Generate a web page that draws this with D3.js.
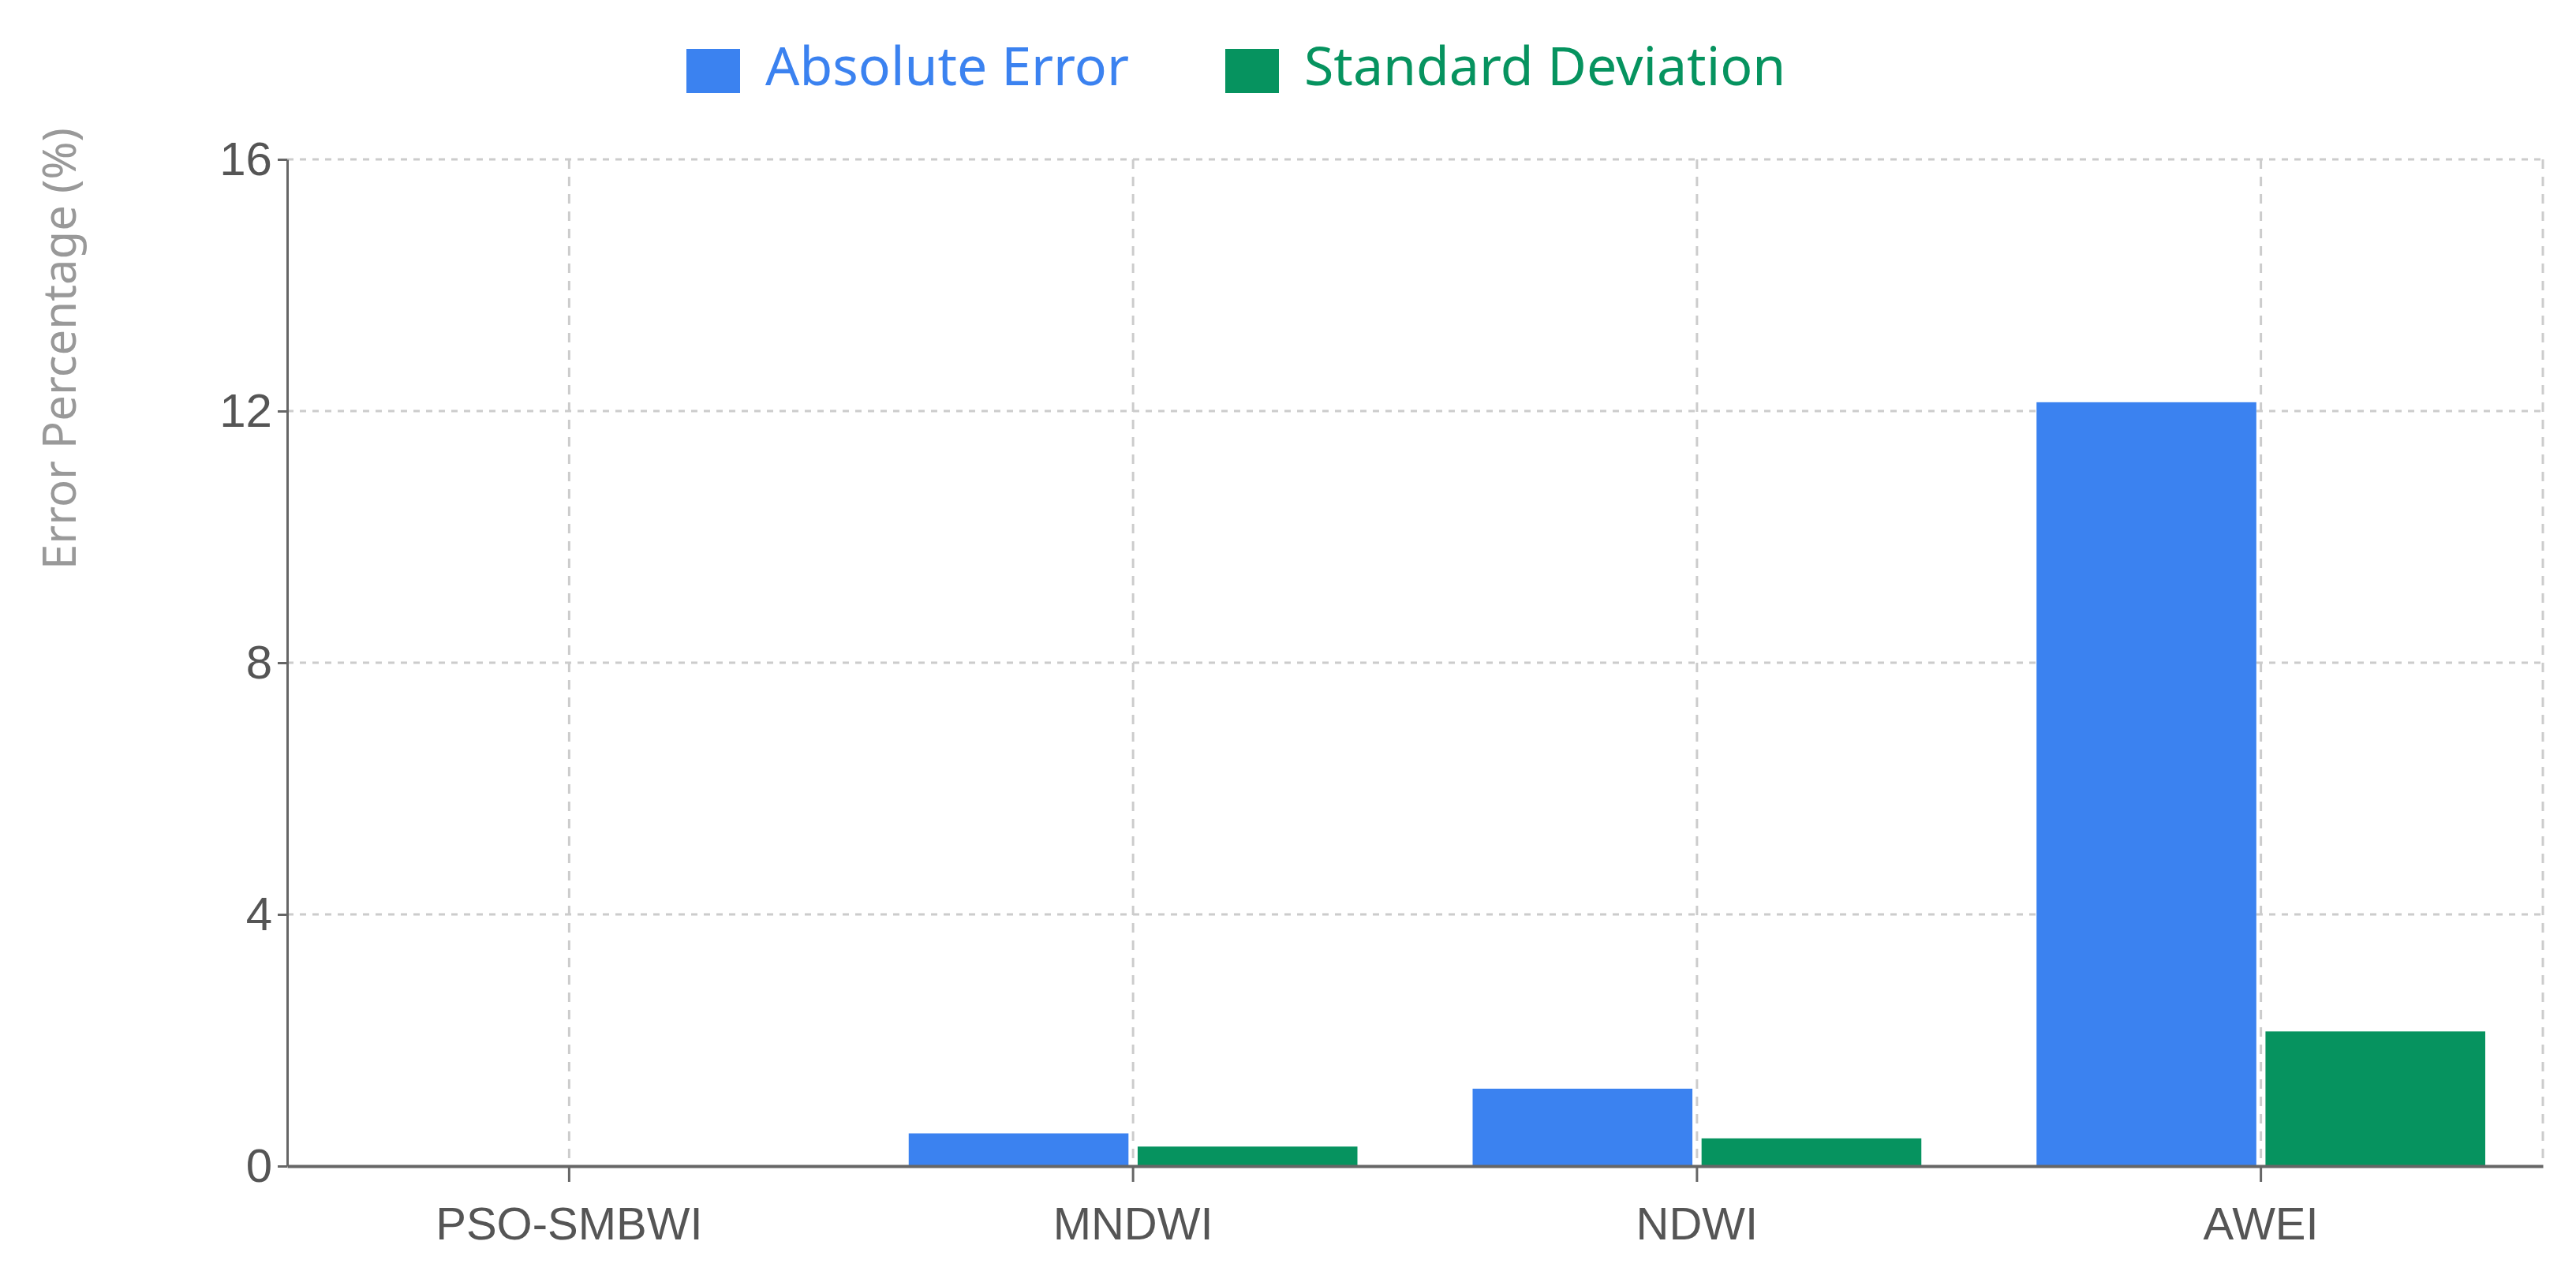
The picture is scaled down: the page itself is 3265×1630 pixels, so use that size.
<!DOCTYPE html>
<html lang="en">
<head>
<meta charset="UTF-8">
<script src="https://d3js.org/d3.v7.min.js"></script>
<style>
  body { margin: 0; background: #fff; }
  svg { font-family: 'Noto Sans', sans-serif; }
</style>
</head>
<body>
<script>
const categories = ["PSO-SMBWI", "MNDWI", "NDWI", "AWEI"];
const seriesNames = ["Absolute Error", "Standard Deviation"];
const absError = [0, 0.52, 1.23, 12.14];
const stdDev = [0, 0.31, 0.44, 2.14];
const yTicks = [0, 4, 8, 12, 16];
const colors = ["#3b82f0", "#06935f"];

const W = 3265, H = 1630;
const margin = { top: 202, right: 42, bottom: 152, left: 364 };
const width = W - margin.left - margin.right;
const height = H - margin.top - margin.bottom;

const svg = d3.select("body").append("svg").attr("width", W).attr("height", H);
const g = svg.append("g").attr("transform", `translate(${margin.left},${margin.top})`);

const x0 = d3.scaleBand().domain(categories).range([0, width]);
const x1 = d3.scaleBand().domain(seriesNames)
    .range([73, x0.bandwidth() - 73]).paddingInner(0.04);
const y = d3.scaleLinear().domain([0, 16]).range([height, 0]);

// grid
g.selectAll(".hgrid").data(yTicks.slice(1)).enter().append("line")
    .attr("x1", 0).attr("x2", width)
    .attr("y1", d => y(d)).attr("y2", d => y(d))
    .attr("stroke", "#ccc").attr("stroke-width", 3).attr("stroke-dasharray", "8,8");
g.selectAll(".vgrid").data(categories).enter().append("line")
    .attr("x1", d => x0(d) + x0.bandwidth() / 2).attr("x2", d => x0(d) + x0.bandwidth() / 2)
    .attr("y1", 0).attr("y2", height)
    .attr("stroke", "#ccc").attr("stroke-width", 3).attr("stroke-dasharray", "12,10");
g.append("line").attr("x1", width).attr("x2", width).attr("y1", 0).attr("y2", height)
    .attr("stroke", "#ccc").attr("stroke-width", 3).attr("stroke-dasharray", "12,10");

// bars
const rows = categories.map((c, i) => ({ c, vals: [absError[i], stdDev[i]] }));
const grp = g.selectAll(".grp").data(rows).enter().append("g")
    .attr("transform", d => `translate(${x0(d.c)},0)`);
grp.selectAll("rect").data(d => d.vals.map((v, k) => ({ k, v }))).enter().append("rect")
    .attr("x", d => x1(seriesNames[d.k]))
    .attr("width", x1.bandwidth())
    .attr("y", d => y(d.v))
    .attr("height", d => height - y(d.v))
    .attr("fill", d => colors[d.k]);

// axes
const yAxis = g.append("g").call(d3.axisLeft(y).tickValues(yTicks).tickSize(12).tickSizeOuter(0));
yAxis.select(".domain").attr("stroke", "#666").attr("stroke-width", 3);
yAxis.selectAll(".tick line").attr("stroke", "#666").attr("stroke-width", 3);
yAxis.selectAll("text").attr("fill", "#555").style("font-size", "60px").attr("dx", "-4");

const xAxis = g.append("g").attr("transform", `translate(0,${height})`)
    .call(d3.axisBottom(x0).tickSize(20).tickSizeOuter(0));
xAxis.select(".domain").attr("stroke", "#666").attr("stroke-width", 4);
xAxis.selectAll(".tick line").attr("stroke", "#666").attr("stroke-width", 3);
xAxis.selectAll("text").attr("fill", "#555").style("font-size", "58px").attr("dy", "1.2em");

// y title
svg.append("text")
    .attr("transform", `translate(96,${margin.top + 240}) rotate(-90)`)
    .attr("text-anchor", "middle")
    .attr("fill", "#999").style("font-size", "58px")
    .text("Error Percentage (%)");

// legend
const legend = svg.append("g").attr("transform", "translate(870,56)");
const items = [{ x: 0, name: seriesNames[0] }, { x: 683, name: seriesNames[1] }];
items.forEach((it, k) => {
  legend.append("rect").attr("x", it.x).attr("y", 6).attr("width", 68).attr("height", 56)
      .attr("fill", colors[k]);
  legend.append("text").attr("x", it.x + 100).attr("y", 52)
      .attr("fill", colors[k]).style("font-size", "68px").text(it.name);
});
</script>
</body>
</html>
